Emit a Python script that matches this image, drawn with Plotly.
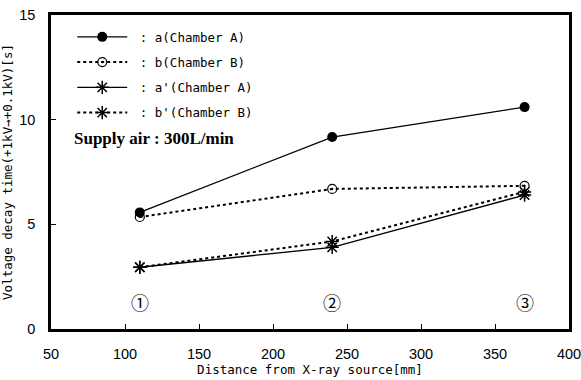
import plotly.graph_objects as go

distance = [110, 240, 370]
a_vals = [5.57, 9.17, 10.6]
b_vals = [5.35, 6.69, 6.84]
a2_vals = [2.95, 3.9, 6.4]
b2_vals = [2.95, 4.18, 6.55]
labels = ["①", "②", "③"]
label_y = 1.3

mono = "DejaVu Sans Mono"
narrow = "Liberation Sans Narrow, Liberation Sans, Arial Narrow, sans-serif"

fig = go.Figure()
series = [
    (" : a(Chamber A)", a_vals, "solid", dict(symbol="circle", size=10, color="black")),
    (" : b(Chamber B)", b_vals, "dot", dict(symbol="circle-open-dot", size=9, color="black", line=dict(width=1.2, color="black"))),
    (" : a'(Chamber A)", a2_vals, "solid", dict(symbol="asterisk-open", size=11, color="black", line=dict(width=1.5, color="black"))),
    (" : b'(Chamber B)", b2_vals, "dot", dict(symbol="asterisk-open", size=11, color="black", line=dict(width=1.5, color="black"))),
]
for i, (name, vals, dash, marker) in enumerate(series):
    fig.add_trace(go.Scatter(
        x=distance, y=vals, name=name, mode="lines+markers",
        line=dict(color="black", width=2 if dash == "dot" else 1.3, dash=dash),
        marker=marker, legendgroup=f"g{i}",
    ))

for xv, lab in zip(distance, labels):
    fig.add_annotation(x=xv, y=label_y, text=lab, showarrow=False,
                       font=dict(family="Noto Sans CJK JP", size=18, color="black"))

fig.add_annotation(xref="paper", yref="paper", x=0.04, y=0.608, xanchor="left", yanchor="middle",
                   text="<b>Supply air : 300L/min</b>", showarrow=False,
                   font=dict(family="Liberation Serif", size=17, color="black"))

axis_common = dict(showline=True, linecolor="black", linewidth=2.5, mirror=True,
                   ticks="inside", ticklen=5, tickcolor="black", tickwidth=1,
                   showgrid=False, zeroline=False, automargin=False,
                   ticklabeloverflow="allow",
                   tickfont=dict(family=narrow, size=14.5, color="black"))

fig.update_layout(
    width=581, height=380,
    margin=dict(l=51, r=12, t=15, b=51),
    paper_bgcolor="white", plot_bgcolor="white",
    showlegend=True,
    legend=dict(x=0.041, y=0.977, xanchor="left", yanchor="top",
                font=dict(family=mono, size=12.5, color="black"),
                itemwidth=50, tracegroupgap=6, bgcolor="rgba(0,0,0,0)"),
    xaxis=dict(range=[50, 400], dtick=50, tick0=50,
               title=dict(text="Distance from X-ray source[mm]", standoff=2,
                          font=dict(family=mono, size=12.5, color="black")),
               ticklabelstandoff=10, **axis_common),
    yaxis=dict(range=[0, 15], dtick=5,
               title=dict(text="Voltage decay time(+1kV→+0.1kV)[s]", standoff=6,
                          font=dict(family=mono, size=12.5, color="black")),
               ticklabelstandoff=10, **axis_common),
)

fig.write_html("out.html", config={"displayModeBar": False},
               post_script="document.body.style.margin='0';")
